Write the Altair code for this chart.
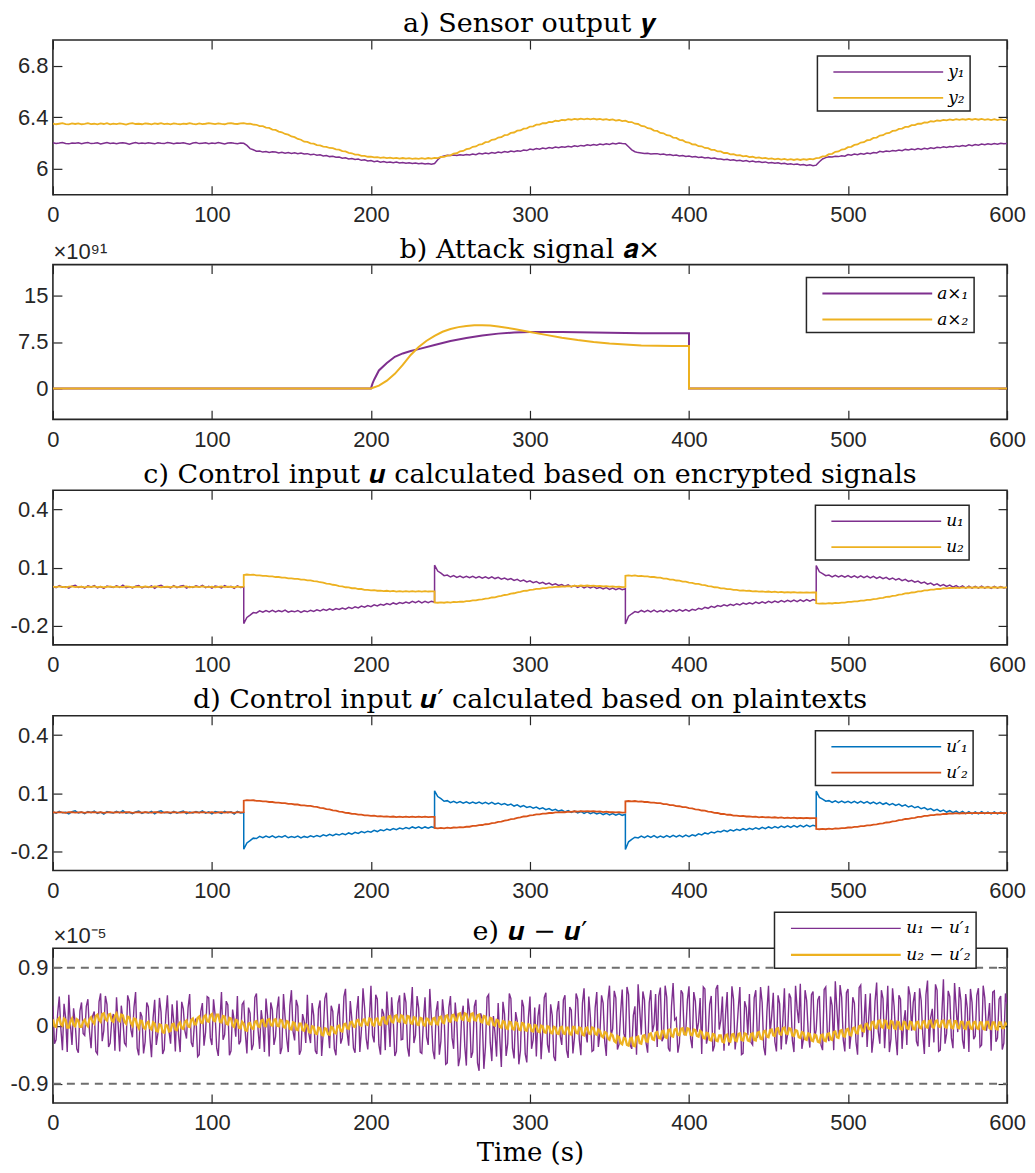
import altair as alt
import pandas as pd

PURPLE = "#7E2F8E"
YELLOW = "#EDB120"
BLUE = "#0072BD"
ORANGE = "#D95319"
INK = "#262626"
SERIF = "DejaVu Serif"
SANS = "Liberation Sans"
W, H = 956, 155
TICK = 9

x_ticks = [0, 100, 200, 300, 400, 500, 600]
ya_ticks = [6, 6.4, 6.8]
ya_dom = [5.8, 7.0]
yb_ticks = [0, 7.5, 15]
yb_dom = [-5, 20]
yc_ticks = [-0.2, 0.1, 0.4]
yc_dom = [-0.3, 0.5]
ye_ticks = [-0.9, 0, 0.9]
ye_dom = [-1.2, 1.2]
e_bounds = [0.9, -0.9]

# sample times (s)
t_grid = list(range(0, 601, 2))
t_odd = list(range(1, 600, 2))
seg_starts = [0, 120, 240, 360, 480]
t_seg = [t for s in seg_starts for t in range(s, s + 121, 2)]

# ---------------- a) sensor output ----------------
y1 = [
    6.203, 6.197, 6.201, 6.206, 6.198, 6.195, 6.202, 6.199, 6.204, 6.196,
    6.201, 6.205, 6.197, 6.199, 6.203, 6.194, 6.200, 6.206, 6.198, 6.202,
    6.196, 6.201, 6.204, 6.199, 6.193, 6.200, 6.205, 6.198, 6.202, 6.197,
    6.203, 6.199, 6.195, 6.204, 6.200, 6.197, 6.206, 6.201, 6.196, 6.202,
    6.199, 6.204, 6.198, 6.193, 6.201, 6.205, 6.197, 6.200, 6.203, 6.196,
    6.202, 6.198, 6.205, 6.200, 6.194, 6.201, 6.204, 6.199, 6.196, 6.202,
    6.199, 6.183, 6.158, 6.149, 6.138, 6.140, 6.131, 6.135, 6.128, 6.133,
    6.132, 6.125, 6.130, 6.123, 6.128, 6.121, 6.126, 6.119, 6.124, 6.117,
    6.119, 6.111, 6.115, 6.106, 6.110, 6.101, 6.104, 6.096, 6.099, 6.091,
    6.093, 6.084, 6.087, 6.078, 6.081, 6.074, 6.077, 6.067, 6.071, 6.062,
    6.065, 6.057, 6.061, 6.053, 6.058, 6.051, 6.055, 6.049, 6.054, 6.047,
    6.051, 6.045, 6.049, 6.042, 6.047, 6.040, 6.044, 6.038, 6.043, 6.037,
    6.042, 6.072, 6.094, 6.101, 6.106, 6.104, 6.109, 6.105, 6.111, 6.107,
    6.113, 6.108, 6.116, 6.111, 6.121, 6.116, 6.124, 6.119, 6.128, 6.123,
    6.132, 6.127, 6.135, 6.130, 6.139, 6.134, 6.142, 6.137, 6.147, 6.143,
    6.155, 6.150, 6.159, 6.153, 6.163, 6.158, 6.166, 6.161, 6.170, 6.165,
    6.173, 6.168, 6.176, 6.171, 6.180, 6.175, 6.183, 6.178, 6.187, 6.182,
    6.190, 6.185, 6.193, 6.188, 6.196, 6.191, 6.199, 6.194, 6.202, 6.197,
    6.196, 6.172, 6.148, 6.134, 6.127, 6.124, 6.121, 6.122, 6.117, 6.119,
    6.119, 6.112, 6.116, 6.109, 6.112, 6.105, 6.108, 6.101, 6.104, 6.097,
    6.100, 6.093, 6.097, 6.090, 6.093, 6.086, 6.089, 6.082, 6.085, 6.077,
    6.078, 6.071, 6.075, 6.068, 6.072, 6.064, 6.068, 6.061, 6.065, 6.057,
    6.061, 6.054, 6.058, 6.051, 6.055, 6.047, 6.051, 6.044, 6.048, 6.040,
    6.044, 6.037, 6.041, 6.034, 6.038, 6.031, 6.035, 6.027, 6.032, 6.026,
    6.030, 6.056, 6.078, 6.088, 6.094, 6.093, 6.099, 6.096, 6.102, 6.099,
    6.112, 6.107, 6.116, 6.110, 6.120, 6.114, 6.124, 6.118, 6.128, 6.124,
    6.137, 6.132, 6.140, 6.135, 6.144, 6.139, 6.147, 6.142, 6.152, 6.147,
    6.154, 6.149, 6.158, 6.152, 6.161, 6.156, 6.165, 6.159, 6.169, 6.164,
    6.172, 6.167, 6.175, 6.170, 6.179, 6.174, 6.182, 6.177, 6.187, 6.181,
    6.190, 6.185, 6.193, 6.188, 6.196, 6.191, 6.198, 6.193, 6.200, 6.195,
    6.197,
]
y2 = [
    6.352, 6.347, 6.351, 6.355, 6.348, 6.346, 6.353, 6.349, 6.354, 6.347,
    6.350, 6.355, 6.348, 6.351, 6.346, 6.353, 6.349, 6.356, 6.347, 6.352,
    6.348, 6.353, 6.350, 6.345, 6.352, 6.356, 6.349, 6.351, 6.347, 6.354,
    6.351, 6.346, 6.353, 6.349, 6.355, 6.348, 6.352, 6.347, 6.354, 6.350,
    6.347, 6.352, 6.349, 6.355, 6.350, 6.346, 6.353, 6.348, 6.351, 6.356,
    6.352, 6.348, 6.354, 6.350, 6.347, 6.353, 6.356, 6.351, 6.349, 6.354,
    6.355, 6.350, 6.352, 6.344, 6.343, 6.333, 6.332, 6.321, 6.319, 6.306,
    6.303, 6.290, 6.285, 6.272, 6.266, 6.252, 6.247, 6.233, 6.227, 6.212,
    6.210, 6.199, 6.196, 6.185, 6.183, 6.173, 6.172, 6.163, 6.162, 6.152,
    6.150, 6.139, 6.136, 6.125, 6.122, 6.112, 6.111, 6.102, 6.102, 6.095,
    6.096, 6.090, 6.092, 6.087, 6.090, 6.085, 6.088, 6.083, 6.086, 6.081,
    6.085, 6.080, 6.084, 6.079, 6.083, 6.078, 6.084, 6.079, 6.085, 6.080,
    6.086, 6.085, 6.093, 6.094, 6.104, 6.106, 6.119, 6.122, 6.137, 6.140,
    6.154, 6.157, 6.172, 6.175, 6.190, 6.193, 6.208, 6.211, 6.226, 6.229,
    6.244, 6.247, 6.262, 6.265, 6.280, 6.283, 6.297, 6.299, 6.313, 6.315,
    6.329, 6.331, 6.344, 6.344, 6.356, 6.355, 6.366, 6.364, 6.374, 6.372,
    6.381, 6.378, 6.386, 6.382, 6.389, 6.384, 6.390, 6.385, 6.391, 6.385,
    6.390, 6.384, 6.389, 6.382, 6.387, 6.380, 6.384, 6.376, 6.380, 6.372,
    6.375, 6.364, 6.364, 6.351, 6.349, 6.334, 6.331, 6.316, 6.313, 6.298,
    6.295, 6.280, 6.277, 6.262, 6.259, 6.244, 6.241, 6.226, 6.223, 6.208,
    6.205, 6.191, 6.190, 6.177, 6.176, 6.163, 6.162, 6.149, 6.148, 6.136,
    6.136, 6.124, 6.125, 6.114, 6.115, 6.105, 6.107, 6.098, 6.101, 6.092,
    6.095, 6.086, 6.090, 6.082, 6.086, 6.078, 6.082, 6.075, 6.080, 6.073,
    6.078, 6.071, 6.076, 6.070, 6.076, 6.070, 6.077, 6.072, 6.079, 6.075,
    6.084, 6.086, 6.098, 6.100, 6.115, 6.118, 6.133, 6.136, 6.151, 6.154,
    6.169, 6.172, 6.187, 6.190, 6.205, 6.208, 6.223, 6.226, 6.241, 6.244,
    6.259, 6.262, 6.277, 6.280, 6.295, 6.297, 6.311, 6.313, 6.326, 6.327,
    6.340, 6.340, 6.352, 6.351, 6.362, 6.360, 6.370, 6.367, 6.376, 6.373,
    6.381, 6.377, 6.384, 6.379, 6.386, 6.381, 6.387, 6.382, 6.388, 6.382,
    6.388, 6.382, 6.388, 6.381, 6.387, 6.380, 6.386, 6.380, 6.386, 6.379,
    6.383,
]

# ---------------- b) attack signal (x 1e91) ----------------
tb1 = [0, 200, 201, 202, 205, 210, 215, 220, 225, 230, 240, 250, 260, 270, 280,
       290, 300, 310, 320, 330, 340, 350, 360, 370, 380, 390, 400, 400, 600]
ab1 = [0, 0, 0.8, 1.4, 2.9, 4.1, 5.1, 5.65, 6.05, 6.35, 7.0, 7.65, 8.15, 8.55, 8.85,
       9.04, 9.12, 9.13, 9.10, 9.06, 9.02, 8.98, 8.95, 8.93, 8.92, 8.92, 8.93, 0, 0]
tb2 = [0, 200, 205, 210, 215, 220, 225, 230, 235, 240, 245, 250, 255, 260, 265, 270,
       275, 280, 290, 300, 310, 320, 330, 340, 350, 360, 370, 380, 390, 400, 400, 600]
ab2 = [0, 0, 0.45, 1.25, 2.35, 3.8, 5.4, 6.7, 7.7, 8.5, 9.15, 9.6, 9.9, 10.1, 10.2, 10.22,
       10.15, 10.0, 9.6, 9.1, 8.65, 8.2, 7.82, 7.5, 7.25, 7.08, 6.95, 6.88, 6.86, 6.86, 0, 0]

# ---------------- c) / d) control input (5 segments, 61 samples each) ----------------
u1 = [
    # 0-120
    0.003, -0.004, 0.006, -0.002, 0.001, -0.007, 0.004, 0.008, -0.003, 0.002,
    -0.006, 0.005, -0.001, 0.007, -0.005, 0.002, -0.008, 0.004, 0.000, -0.003,
    0.006, -0.002, 0.009, -0.004, 0.001, -0.006, 0.003, 0.007, -0.005, 0.002,
    -0.003, 0.005, -0.007, 0.004, 0.008, -0.002, 0.001, -0.005, 0.006, -0.004,
    0.003, 0.007, -0.006, 0.002, -0.003, 0.005, -0.001, 0.008, -0.004, 0.003,
    -0.007, 0.004, 0.001, -0.005, 0.006, -0.002, 0.003, -0.008, 0.005, -0.003,
    -0.001,
    # 120-240
    -0.190, -0.158, -0.146, -0.133, -0.135, -0.124, -0.131, -0.122, -0.129, -0.121,
    -0.130, -0.123, -0.128, -0.120, -0.131, -0.125, -0.129, -0.122, -0.132, -0.124,
    -0.129, -0.121, -0.127, -0.119, -0.125, -0.116, -0.122, -0.113, -0.120, -0.112,
    -0.117, -0.109, -0.115, -0.106, -0.112, -0.103, -0.109, -0.099, -0.105, -0.097,
    -0.102, -0.093, -0.099, -0.090, -0.095, -0.086, -0.092, -0.083, -0.089, -0.081,
    -0.086, -0.078, -0.084, -0.075, -0.082, -0.074, -0.083, -0.075, -0.082, -0.074,
    -0.079,
    # 240-360
    0.112, 0.082, 0.071, 0.058, 0.061, 0.051, 0.058, 0.049, 0.056, 0.048,
    0.055, 0.047, 0.054, 0.046, 0.053, 0.045, 0.052, 0.044, 0.052, 0.043,
    0.049, 0.040, 0.046, 0.037, 0.043, 0.033, 0.039, 0.029, 0.035, 0.026,
    0.031, 0.022, 0.028, 0.018, 0.024, 0.014, 0.020, 0.010, 0.016, 0.007,
    0.012, 0.003, 0.010, 0.000, 0.007, -0.003, 0.005, -0.005, 0.003, -0.006,
    0.001, -0.008, -0.002, -0.011, -0.004, -0.013, -0.006, -0.014, -0.007, -0.015,
    -0.010,
    # 360-480
    -0.192, -0.152, -0.139, -0.128, -0.132, -0.122, -0.130, -0.121, -0.129, -0.120,
    -0.130, -0.122, -0.129, -0.120, -0.128, -0.119, -0.127, -0.118, -0.126, -0.117,
    -0.125, -0.116, -0.121, -0.111, -0.116, -0.106, -0.111, -0.101, -0.106, -0.097,
    -0.101, -0.093, -0.099, -0.090, -0.096, -0.087, -0.093, -0.084, -0.090, -0.082,
    -0.088, -0.079, -0.086, -0.077, -0.084, -0.075, -0.082, -0.073, -0.080, -0.071,
    -0.078, -0.069, -0.077, -0.068, -0.076, -0.067, -0.075, -0.066, -0.074, -0.066,
    -0.071,
    # 480-600
    0.110, 0.078, 0.069, 0.058, 0.061, 0.052, 0.060, 0.051, 0.059, 0.050,
    0.058, 0.049, 0.057, 0.048, 0.057, 0.048, 0.056, 0.046, 0.054, 0.044,
    0.052, 0.042, 0.049, 0.039, 0.046, 0.036, 0.043, 0.032, 0.039, 0.028,
    0.034, 0.024, 0.030, 0.019, 0.025, 0.014, 0.020, 0.009, 0.016, 0.005,
    0.012, 0.002, 0.009, -0.001, 0.007, -0.004, 0.005, -0.006, 0.004, -0.007,
    0.003, -0.007, 0.004, -0.006, 0.002, -0.008, 0.003, -0.007, 0.002, -0.006,
    -0.002,
]
u2 = [
    # 0-120
    0.001, -0.001, 0.002, 0.000, -0.002, 0.001, 0.002, -0.001, 0.000, 0.001,
    -0.002, 0.001, 0.000, 0.002, -0.001, 0.001, -0.002, 0.000, 0.002, -0.001,
    0.001, 0.000, -0.001, 0.002, 0.001, -0.002, 0.000, 0.001, -0.001, 0.002,
    0.000, -0.001, 0.002, 0.001, -0.002, 0.000, 0.001, -0.001, 0.002, 0.000,
    -0.001, 0.001, 0.002, -0.002, 0.000, 0.001, -0.001, 0.002, 0.000, -0.001,
    0.001, -0.002, 0.000, 0.002, -0.001, 0.001, 0.000, -0.002, 0.001, 0.000,
    0.001,
    # 120-240
    0.061, 0.064, 0.062, 0.063, 0.060, 0.060, 0.057, 0.057, 0.054, 0.054,
    0.051, 0.051, 0.048, 0.048, 0.044, 0.044, 0.041, 0.041, 0.037, 0.037,
    0.034, 0.034, 0.030, 0.029, 0.024, 0.022, 0.017, 0.016, 0.011, 0.009,
    0.004, 0.003, -0.002, -0.003, -0.007, -0.007, -0.011, -0.011, -0.015, -0.015,
    -0.018, -0.017, -0.020, -0.019, -0.022, -0.020, -0.023, -0.021, -0.024, -0.022,
    -0.024, -0.022, -0.024, -0.022, -0.024, -0.022, -0.024, -0.022, -0.024, -0.023,
    -0.023,
    # 240-360
    -0.080, -0.082, -0.080, -0.082, -0.079, -0.081, -0.078, -0.079, -0.076, -0.077,
    -0.074, -0.074, -0.070, -0.070, -0.066, -0.065, -0.061, -0.060, -0.055, -0.054,
    -0.049, -0.047, -0.042, -0.040, -0.035, -0.033, -0.028, -0.026, -0.021, -0.020,
    -0.015, -0.014, -0.010, -0.010, -0.006, -0.006, -0.003, -0.003, 0.000, 0.000,
    0.002, 0.001, 0.004, 0.003, 0.006, 0.004, 0.007, 0.005, 0.007, 0.005,
    0.006, 0.004, 0.005, 0.002, 0.004, 0.001, 0.002, 0.000, 0.001, -0.001,
    0.000,
    # 360-480
    0.057, 0.059, 0.057, 0.059, 0.056, 0.057, 0.054, 0.054, 0.051, 0.051,
    0.048, 0.048, 0.043, 0.043, 0.038, 0.038, 0.033, 0.032, 0.027, 0.027,
    0.022, 0.021, 0.016, 0.015, 0.010, 0.009, 0.004, 0.003, -0.002, -0.003,
    -0.008, -0.008, -0.012, -0.012, -0.016, -0.016, -0.019, -0.018, -0.021, -0.020,
    -0.023, -0.022, -0.025, -0.023, -0.026, -0.024, -0.027, -0.025, -0.028, -0.026,
    -0.029, -0.027, -0.029, -0.027, -0.030, -0.028, -0.030, -0.028, -0.030, -0.029,
    -0.029,
    # 480-600
    -0.085, -0.087, -0.085, -0.087, -0.084, -0.086, -0.083, -0.084, -0.081, -0.081,
    -0.078, -0.078, -0.075, -0.075, -0.071, -0.071, -0.067, -0.067, -0.063, -0.062,
    -0.058, -0.057, -0.052, -0.051, -0.046, -0.045, -0.040, -0.039, -0.034, -0.033,
    -0.029, -0.028, -0.023, -0.023, -0.018, -0.018, -0.014, -0.014, -0.010, -0.011,
    -0.007, -0.008, -0.005, -0.006, -0.004, -0.006, -0.003, -0.005, -0.002, -0.004,
    -0.002, -0.004, -0.002, -0.004, -0.002, -0.004, -0.002, -0.004, -0.002, -0.004,
    -0.003,
]

# ---------------- e) u - u' (x 1e-5), even and odd seconds ----------------
e1_even = [
    0.31, -0.22, 0.45, -0.38, 0.12, 0.48, -0.30, 0.05, -0.42, 0.36,
    -0.15, 0.41, -0.35, 0.22, -0.44, 0.50, -0.08, 0.33, -0.27, 0.18,
    0.44, -0.40, 0.09, -0.31, 0.38, -0.18, 0.52, -0.46, 0.14, -0.25,
    0.29, -0.49, 0.40, -0.12, 0.21, -0.37, 0.47, -0.28, 0.06, 0.39,
    -0.41, 0.26, -0.20, 0.49, -0.33, 0.11, -0.45, 0.35, -0.10, 0.43,
    -0.30, 0.17, -0.47, 0.52, -0.14, 0.32, -0.39, 0.08, 0.46, -0.24,
    0.37, -0.43, 0.19, -0.29, 0.50, -0.36, 0.03, 0.42, -0.48, 0.25,
    -0.17, 0.45, -0.34, 0.13, -0.41, 0.55, -0.23, 0.30, -0.38, 0.07,
    0.48, -0.27, 0.16, -0.44, 0.39, -0.11, 0.51, -0.35, 0.22, -0.46,
    0.34, -0.19, 0.57, -0.31, 0.10, -0.42, 0.46, -0.07, 0.28, -0.37,
    0.62, -0.26, 0.41, -0.45, 0.18, 0.53, -0.33, 0.09, -0.40, 0.47,
    -0.21, 0.36, -0.48, 0.60, -0.15, 0.27, -0.43, 0.44, -0.30, 0.12,
    -0.52, 0.38, -0.24, 0.15, -0.58, 0.46, -0.36, 0.05, -0.49, 0.31,
    -0.62, 0.22, -0.41, 0.40, -0.70, 0.11, -0.33, 0.48, -0.55, -0.12,
    0.35, -0.64, 0.18, -0.28, 0.42, -0.51, 0.07, -0.39, 0.29, -0.57,
    0.45, -0.22, -0.48, 0.33, -0.10, 0.51, -0.42, 0.16, -0.55, 0.38,
    -0.30, 0.47, -0.50, 0.24, -0.18, 0.41, -0.46, 0.58, -0.26, 0.13,
    -0.38, 0.52, -0.12, 0.35, -0.47, 0.62, -0.05, 0.43, -0.29, 0.56,
    -0.21, 0.48, -0.36, 0.30, 0.64, -0.14, 0.40, -0.42, 0.55, 0.02,
    -0.33, 0.59, -0.18, 0.44, -0.40, 0.66, 0.12, -0.27, 0.50, -0.09,
    0.61, -0.35, 0.38, 0.05, -0.44, 0.57, -0.16, 0.46, -0.31, 0.63,
    0.08, -0.39, 0.52, -0.22, 0.41, -0.12, 0.60, -0.43, 0.28, 0.49,
    -0.30, 0.55, -0.08, 0.36, -0.46, 0.62, 0.15, -0.25, 0.47, -0.37,
    0.58, -0.14, 0.43, -0.41, 0.26, 0.65, -0.20, 0.39, -0.34, 0.53,
    -0.06, 0.46, -0.38, 0.60, -0.24, 0.31, 0.69, -0.15, 0.44, -0.40,
    0.57, -0.11, 0.35, -0.45, 0.63, 0.02, -0.33, 0.50, -0.19, 0.67,
    -0.28, 0.42, 0.09, -0.41, 0.58, -0.17, 0.47, -0.36, 0.24, 0.61,
    -0.08, 0.52, -0.32, 0.39, -0.44, 0.70, 0.13, -0.26, 0.55, -0.38,
    0.72, -0.12, 0.45, -0.35, 0.28, 0.60, -0.22, 0.49, -0.41, 0.36,
    -0.16, 0.58, -0.30, 0.43, 0.07, -0.39, 0.54, -0.19, 0.46, -0.27,
    0.33,
]
e1_odd = [
    -0.28, 0.19, -0.05, 0.34, -0.41, 0.02, 0.27, -0.36, 0.23, -0.12,
    0.30, -0.09, 0.15, -0.40, 0.37, -0.24, 0.46, -0.33, 0.08, -0.39,
    0.02, 0.31, -0.27, 0.47, -0.06, 0.29, -0.35, 0.21, -0.43, 0.36,
    -0.18, 0.12, -0.30, 0.43, -0.44, 0.16, -0.09, 0.33, -0.40, -0.14,
    0.37, -0.08, 0.28, -0.26, 0.04, -0.48, 0.22, -0.31, 0.45, -0.19,
    0.41, -0.35, 0.06, -0.22, 0.38, -0.46, 0.25, -0.17, -0.29, 0.33,
    -0.12, 0.28, -0.38, 0.44, -0.06, 0.24, -0.41, 0.15, 0.36, -0.30,
    0.26, -0.44, 0.49, -0.20, 0.31, -0.09, 0.40, -0.45, 0.18, -0.27,
    -0.13, 0.35, -0.39, 0.26, -0.47, 0.42, -0.04, 0.31, -0.36, 0.14,
    -0.28, 0.45, -0.10, 0.38, -0.35, 0.21, -0.41, 0.58, -0.20, 0.09,
    -0.15, 0.48, -0.30, 0.26, -0.38, 0.12, 0.44, -0.47, 0.35, -0.22,
    0.51, -0.34, 0.19, -0.27, 0.46, -0.41, 0.08, -0.18, 0.57, -0.39,
    0.22, -0.45, 0.41, -0.60, 0.28, -0.19, 0.36, -0.63, 0.14, -0.32,
    0.42, -0.50, 0.30, -0.58, 0.19, -0.67, 0.44, -0.26, 0.15, -0.48,
    -0.20, 0.37, -0.47, 0.50, -0.35, 0.21, -0.60, 0.40, -0.44, 0.12,
    -0.36, 0.28, 0.14, -0.52, 0.44, -0.29, 0.33, -0.48, 0.21, -0.16,
    0.40, -0.38, 0.29, -0.43, 0.50, -0.22, 0.35, -0.11, 0.45, -0.40,
    0.28, -0.33, 0.47, -0.24, 0.39, -0.16, 0.54, -0.37, 0.20, -0.12,
    0.60, -0.30, 0.16, -0.45, 0.25, 0.53, -0.27, 0.36, -0.10, 0.49,
    0.46, -0.24, 0.62, -0.35, 0.30, 0.09, -0.42, 0.55, -0.15, 0.40,
    -0.20, 0.52, -0.10, 0.43, 0.60, -0.28, 0.33, -0.40, 0.57, -0.06,
    0.45, 0.18, -0.31, 0.61, -0.37, 0.27, -0.45, 0.38, -0.15, -0.26,
    0.43, -0.19, 0.60, -0.33, 0.22, -0.12, 0.51, -0.40, 0.34, 0.07,
    -0.29, 0.50, -0.23, 0.62, 0.04, -0.36, 0.55, -0.12, 0.48, -0.20,
    0.40, -0.30, 0.56, -0.14, 0.45, -0.38, 0.26, 0.63, -0.22, 0.51,
    -0.36, 0.44, -0.25, 0.59, -0.18, 0.49, 0.12, -0.42, 0.38, -0.09,
    0.55, -0.35, 0.62, -0.21, 0.30, -0.46, 0.41, 0.05, -0.30, 0.47,
    0.36, -0.24, 0.58, -0.13, 0.48, -0.33, 0.26, 0.64, -0.40, 0.18,
    -0.28, 0.54, -0.19, 0.66, -0.10, 0.39, -0.36, 0.27, 0.57, -0.21,
    0.47, -0.33, 0.62, -0.08, 0.35, 0.52, -0.25, 0.41, -0.37, 0.50,
]
e2_even = [
    0.10, -0.02, 0.12, 0.00, 0.09, -0.03, 0.11, -0.01, 0.08, -0.02,
    0.09, -0.01, 0.13, 0.03, 0.17, 0.06, 0.19, 0.08, 0.18, 0.06,
    0.19, 0.07, 0.16, 0.03, 0.13, 0.00, 0.10, -0.04, 0.07, -0.05,
    0.06, -0.06, 0.03, -0.09, 0.01, -0.11, 0.00, -0.08, 0.03, -0.07,
    0.05, -0.05, 0.08, -0.02, 0.11, 0.02, 0.14, 0.04, 0.16, 0.06,
    0.18, 0.07, 0.17, 0.05, 0.14, 0.02, 0.11, -0.02, 0.08, -0.04,
    0.03, -0.08, 0.04, -0.05, 0.07, -0.02, 0.09, -0.01, 0.10, 0.00,
    0.10, -0.01, 0.08, -0.03, 0.06, -0.06, 0.04, -0.07, 0.03, -0.08,
    0.00, -0.11, -0.02, -0.13, -0.04, -0.15, -0.05, -0.14, -0.03, -0.12,
    0.00, -0.09, 0.03, -0.05, 0.06, -0.02, 0.09, 0.00, 0.10, 0.01,
    0.10, 0.00, 0.11, 0.01, 0.13, 0.03, 0.15, 0.05, 0.16, 0.06,
    0.15, 0.04, 0.14, 0.03, 0.12, 0.01, 0.11, 0.00, 0.10, 0.02,
    0.12, 0.02, 0.14, 0.04, 0.16, 0.06, 0.17, 0.08, 0.19, 0.09,
    0.18, 0.07, 0.19, 0.08, 0.17, 0.05, 0.14, 0.02, 0.11, 0.00,
    0.08, -0.03, 0.06, -0.05, 0.05, -0.06, 0.04, -0.07, 0.03, -0.08,
    0.01, -0.09, 0.00, -0.10, -0.01, -0.11, -0.02, -0.12, -0.03, -0.13,
    -0.02, -0.13, -0.03, -0.14, -0.02, -0.12, -0.04, -0.15, -0.03, -0.13,
    -0.04, -0.14, -0.08, -0.18, -0.11, -0.22, -0.15, -0.26, -0.18, -0.29,
    -0.20, -0.31, -0.19, -0.32, -0.17, -0.28, -0.15, -0.25, -0.12, -0.22,
    -0.10, -0.20, -0.08, -0.19, -0.06, -0.17, -0.05, -0.15, -0.04, -0.14,
    -0.05, -0.15, -0.07, -0.17, -0.10, -0.20, -0.12, -0.23, -0.14, -0.24,
    -0.15, -0.26, -0.14, -0.25, -0.13, -0.24, -0.12, -0.23, -0.13, -0.24,
    -0.12, -0.23, -0.10, -0.21, -0.08, -0.18, -0.06, -0.16, -0.04, -0.14,
    -0.03, -0.13, -0.05, -0.16, -0.08, -0.19, -0.11, -0.22, -0.13, -0.24,
    -0.15, -0.26, -0.14, -0.24, -0.12, -0.22, -0.09, -0.19, -0.07, -0.17,
    -0.05, -0.15, -0.03, -0.12, 0.00, -0.09, 0.03, -0.06, 0.06, -0.04,
    0.08, -0.03, 0.07, -0.04, 0.06, -0.05, 0.05, -0.06, 0.05, -0.05,
    0.05, -0.06, 0.06, -0.04, 0.07, -0.03, 0.08, -0.03, 0.08, -0.02,
    0.08, -0.03, 0.08, -0.04, 0.07, -0.04, 0.06, -0.05, 0.06, -0.05,
    0.06, -0.05, 0.05, -0.06, 0.06, -0.05, 0.05, -0.06, 0.05, -0.04,
    0.01,
]
e2_odd = [
    -0.01, 0.09, 0.02, 0.11, -0.03, 0.07, 0.01, 0.10, -0.02, 0.06,
    0.02, 0.10, 0.06, 0.15, 0.09, 0.18, 0.10, 0.17, 0.08, 0.15,
    0.09, 0.17, 0.06, 0.14, 0.04, 0.11, 0.01, 0.08, -0.03, 0.04,
    -0.04, 0.05, -0.08, 0.02, -0.10, 0.01, -0.09, 0.02, -0.06, 0.02,
    -0.04, 0.06, -0.01, 0.09, 0.02, 0.12, 0.05, 0.14, 0.07, 0.16,
    0.08, 0.17, 0.06, 0.15, 0.03, 0.12, 0.00, 0.09, -0.03, 0.06,
    -0.07, 0.03, -0.04, 0.06, -0.01, 0.08, 0.00, 0.09, 0.01, 0.09,
    0.00, 0.09, -0.02, 0.07, -0.05, 0.05, -0.06, 0.03, -0.07, 0.02,
    -0.10, -0.01, -0.12, -0.03, -0.14, -0.04, -0.13, -0.02, -0.11, -0.01,
    -0.08, 0.02, -0.04, 0.05, -0.01, 0.08, 0.01, 0.09, 0.02, 0.11,
    0.01, 0.10, 0.02, 0.12, 0.04, 0.14, 0.06, 0.15, 0.07, 0.16,
    0.05, 0.15, 0.04, 0.13, 0.02, 0.12, 0.01, 0.11, 0.03, 0.11,
    0.03, 0.13, 0.05, 0.15, 0.07, 0.16, 0.09, 0.18, 0.10, 0.19,
    0.08, 0.18, 0.09, 0.16, 0.06, 0.15, 0.03, 0.12, 0.01, 0.09,
    -0.02, 0.07, -0.04, 0.06, -0.05, 0.05, -0.06, 0.04, -0.07, 0.02,
    -0.08, 0.01, -0.09, 0.00, -0.10, -0.01, -0.11, -0.02, -0.12, -0.03,
    -0.12, -0.03, -0.13, -0.02, -0.11, -0.03, -0.14, -0.04, -0.12, -0.03,
    -0.13, -0.06, -0.16, -0.10, -0.20, -0.13, -0.24, -0.16, -0.27, -0.19,
    -0.30, -0.20, -0.31, -0.18, -0.27, -0.16, -0.24, -0.13, -0.21, -0.11,
    -0.19, -0.09, -0.18, -0.07, -0.16, -0.06, -0.14, -0.05, -0.13, -0.04,
    -0.14, -0.06, -0.16, -0.08, -0.19, -0.11, -0.22, -0.13, -0.23, -0.15,
    -0.25, -0.15, -0.24, -0.14, -0.23, -0.13, -0.22, -0.12, -0.23, -0.13,
    -0.22, -0.11, -0.20, -0.09, -0.17, -0.07, -0.15, -0.05, -0.13, -0.04,
    -0.12, -0.04, -0.15, -0.07, -0.18, -0.10, -0.21, -0.12, -0.23, -0.14,
    -0.25, -0.15, -0.23, -0.13, -0.21, -0.10, -0.18, -0.08, -0.16, -0.06,
    -0.14, -0.04, -0.11, -0.01, -0.08, 0.02, -0.05, 0.05, -0.03, 0.07,
    -0.02, 0.08, -0.03, 0.07, -0.04, 0.06, -0.05, 0.06, -0.04, 0.06,
    -0.05, 0.05, -0.03, 0.06, -0.02, 0.07, -0.02, 0.07, -0.01, 0.07,
    -0.02, 0.07, -0.03, 0.07, -0.03, 0.06, -0.04, 0.05, -0.04, 0.05,
    -0.04, 0.05, -0.05, 0.06, -0.04, 0.05, -0.05, 0.05, -0.04, 0.04,
]

TITLES = [
    "a) Sensor output 𝒚",
    "b) Attack signal 𝒂×",
    "c) Control input 𝒖 calculated based on encrypted signals",
    "d) Control input 𝒖′ calculated based on plaintexts",
    "e) 𝒖 − 𝒖′",
]
TITLE_OFFSETS = [1, -23, 1, 1, -34]
NAMES_A = ["y₁", "y₂"]
NAMES_B = ["a×₁", "a×₂"]
NAMES_C = ["u₁", "u₂"]
NAMES_D = ["u′₁", "u′₂"]
NAMES_E = ["u₁ − u′₁", "u₂ − u′₂"]


def merge_even_odd(even_vals, odd_vals):
    by_t = dict(zip(t_grid, even_vals))
    by_t.update(zip(t_odd, odd_vals))
    ts = sorted(by_t)
    return ts, [by_t[t] for t in ts]


def long_df(pairs):
    frames = []
    for name, t, vals in pairs:
        assert len(t) == len(vals), (name, len(t), len(vals))
        frames.append(pd.DataFrame({"t": t, "v": vals, "s": name, "i": list(range(len(t)))}))
    return pd.concat(frames, ignore_index=True)


XS = alt.Scale(domain=[0, 600], nice=False, zero=False)
# legend line glyph: starts at the symbol centre and runs 110 px to the right
LEG_PATH = "M0,0L11,0"


def x_axis(bottom=True, title=None):
    kw = dict(values=x_ticks, offset=-TICK, tickSize=TICK, tickColor=INK, tickWidth=1.2,
              domain=False, grid=False)
    if bottom:
        kw.update(orient="bottom", labelFont=SANS, labelFontSize=22, labelColor=INK,
                  labelPadding=10, labelFlush=False)
        if title:
            kw.update(title=title, titleFont=SERIF, titleFontSize=26, titleFontWeight="normal",
                      titleColor="black", titlePadding=6)
        else:
            kw.update(title=None)
    else:
        kw.update(orient="top", labels=False, title=None)
    return alt.Axis(**kw)


def y_axis(ticks, left=True, exp=None):
    kw = dict(values=ticks, offset=-TICK, tickSize=TICK, tickColor=INK, tickWidth=1.2,
              domain=False, grid=False)
    if left:
        kw.update(orient="left", labelFont=SANS, labelFontSize=22, labelColor=INK,
                  labelPadding=5, labelExpr="'' + datum.value")
        if exp:
            kw.update(title=exp, titleAngle=0, titleAlign="left", titleBaseline="alphabetic",
                      titleX=-TICK, titleY=-6, titleFont=SANS, titleFontSize=22,
                      titleFontWeight="normal", titleColor=INK)
        else:
            kw.update(title=None)
    else:
        kw.update(orient="right", labels=False, title=None)
    return alt.Axis(**kw)


def legend(x, y):
    return alt.Legend(orient="none", legendX=x, legendY=y, title=None,
                      symbolType=LEG_PATH, symbolSize=400, symbolStrokeWidth=2,
                      symbolOffset=0, labelOffset=104, labelFont=SERIF,
                      labelFontStyle="italic", labelFontSize=17, labelColor="black",
                      padding=5, rowPadding=7, strokeColor=INK, fillColor="white")


def panel(df, names, colors, ydom, yticks, title, toff, leg_xy, widths, exp=None,
          xtitle=None, rules=None):
    ys = alt.Scale(domain=ydom, nice=False, zero=False)
    layers = []
    if rules is not None:
        rdf = pd.DataFrame({"b": rules})
        layers.append(alt.Chart(rdf).mark_rule(color="#6e6e6e", strokeWidth=2,
                                               strokeDash=[8, 6]).encode(
            y=alt.Y("b:Q", scale=ys, axis=y_axis(yticks, left=False)),
            x=alt.value(0), x2=alt.value(W)))
        layers.append(alt.Chart(df).mark_line(opacity=0).encode(
            x=alt.X("t:Q", scale=XS, axis=x_axis(bottom=False)),
            y=alt.Y("v:Q", scale=ys, axis=None)))
    else:
        layers.append(alt.Chart(df).mark_line(opacity=0).encode(
            x=alt.X("t:Q", scale=XS, axis=x_axis(bottom=False)),
            y=alt.Y("v:Q", scale=ys, axis=y_axis(yticks, left=False))))
    layers.append(alt.Chart(df).mark_line(clip=True).encode(
        x=alt.X("t:Q", scale=XS, axis=x_axis(bottom=True, title=xtitle)),
        y=alt.Y("v:Q", scale=ys, axis=y_axis(yticks, left=True, exp=exp)),
        color=alt.Color("s:N", scale=alt.Scale(domain=names, range=colors),
                        sort=names, legend=legend(*leg_xy)),
        strokeWidth=alt.StrokeWidth("s:N", scale=alt.Scale(domain=names, range=widths),
                                    legend=None),
        order=alt.Order("i:Q"),
        detail="s:N",
    ))
    return alt.layer(*layers).resolve_axis(x="independent", y="independent").properties(
        width=W, height=H, title=alt.TitleParams(text=title, offset=toff))


te1, e1 = merge_even_odd(e1_even, e1_odd)
te2, e2 = merge_even_odd(e2_even, e2_odd)

df_a = long_df([(NAMES_A[0], t_grid, y1), (NAMES_A[1], t_grid, y2)])
df_b = long_df([(NAMES_B[0], tb1, ab1), (NAMES_B[1], tb2, ab2)])
df_c = long_df([(NAMES_C[0], t_seg, u1), (NAMES_C[1], t_seg, u2)])
df_d = long_df([(NAMES_D[0], t_seg, u1), (NAMES_D[1], t_seg, u2)])
df_e = long_df([(NAMES_E[0], te1, e1), (NAMES_E[1], te2, e2)])

pa = panel(df_a, NAMES_A, [PURPLE, YELLOW], ya_dom, ya_ticks, TITLES[0], TITLE_OFFSETS[0],
           (766, 16), [1.5, 1.8])
pb = panel(df_b, NAMES_B, [PURPLE, YELLOW], yb_dom, yb_ticks, TITLES[1], TITLE_OFFSETS[1],
           (755, 13), [2, 2], exp="×10⁹¹")
pc = panel(df_c, NAMES_C, [PURPLE, YELLOW], yc_dom, yc_ticks, TITLES[2], TITLE_OFFSETS[2],
           (764, 15), [1.5, 1.8])
pd_ = panel(df_d, NAMES_D, [BLUE, ORANGE], yc_dom, yc_ticks, TITLES[3], TITLE_OFFSETS[3],
            (764, 15), [1.5, 1.8])
pe = panel(df_e, NAMES_E, [PURPLE, YELLOW], ye_dom, ye_ticks, TITLES[4], TITLE_OFFSETS[4],
           (723, -36), [1.4, 2.3], exp="×10⁻⁵", xtitle="Time (s)", rules=e_bounds)

chart = alt.vconcat(pa, pb, pc, pd_, pe, spacing=8).resolve_scale(
    color="independent", strokeWidth="independent"
).properties(
    padding={"left": 1, "top": 0, "right": 0, "bottom": 0}
).configure_view(
    stroke=INK, strokeWidth=1.6
).configure_title(
    font=SERIF, fontSize=27, fontWeight="normal", color="black", anchor="middle",
    baseline="alphabetic"
).configure_legend(
    strokeWidth=1.5
)

chart.save("out.html", embed_options={"renderer": "svg", "actions": False})
